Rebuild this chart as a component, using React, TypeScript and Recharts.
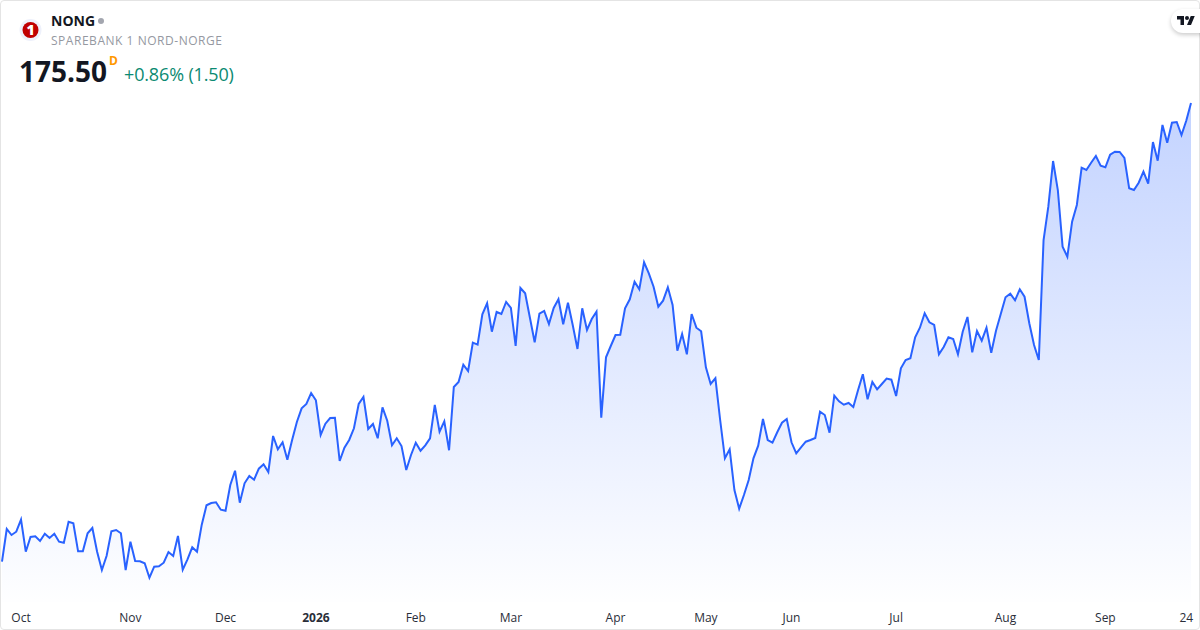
import { AreaChart, Area, XAxis, YAxis } from 'recharts';

const prices = [
  129.63, 132.9, 132.3, 132.63, 133.83, 130.63, 132.1, 132.17, 131.7, 132.43,
  132.0, 132.43, 131.63, 131.53, 133.63, 133.47, 130.67, 130.67, 132.47, 133.0,
  130.63, 128.8, 130.23, 132.67, 132.8, 132.47, 128.8, 131.63, 129.7, 129.67,
  129.47, 128.03, 129.13, 129.17, 129.53, 130.6, 130.2, 132.2, 128.83, 129.87,
  131.07, 130.63, 133.33, 135.27, 135.5, 135.57, 134.83, 134.73, 137.3, 138.73,
  135.53, 137.47, 138.2, 137.83, 138.93, 139.37, 138.6, 142.2, 140.87, 141.57,
  139.83, 141.8, 143.6, 144.97, 145.4, 146.5, 145.77, 142.3, 143.43, 144.0,
  144.03, 139.7, 141.03, 141.8, 142.97, 145.4, 146.1, 142.9, 143.4, 141.97,
  145.07, 143.73, 141.27, 141.97, 141.2, 138.8, 140.3, 141.53, 140.73, 141.27,
  141.97, 145.3, 142.63, 143.67, 140.77, 147.1, 147.6, 149.33, 148.7, 151.53,
  151.33, 154.37, 155.47, 152.63, 154.6, 154.4, 155.6, 155.0, 151.2, 157.0,
  156.47, 154.03, 151.57, 154.43, 154.7, 153.4, 155.0, 155.87, 153.37, 155.53,
  153.3, 150.9, 154.97, 152.8, 153.9, 154.63, 144.03, 150.07, 151.2, 152.3,
  152.33, 154.97, 155.87, 157.63, 156.87, 159.57, 158.47, 157.13, 155.13, 155.73,
  157.07, 155.3, 150.73, 152.4, 150.37, 154.4, 153.03, 152.67, 149.07, 147.4,
  147.97, 143.8, 139.97, 140.87, 136.8, 134.93, 136.3, 137.8, 139.97, 141.23,
  143.9, 141.8, 141.53, 142.57, 143.53, 143.9, 141.57, 140.47, 141.07, 141.63,
  141.8, 142.0, 144.63, 144.3, 142.53, 146.23, 145.67, 145.33, 145.5, 145.1,
  146.8, 148.37, 145.87, 147.6, 146.87, 147.4, 147.95, 147.83, 146.2, 148.97,
  149.8, 149.97, 152.07, 153.03, 154.47, 153.57, 153.3, 150.37, 151.1, 152.07,
  151.9, 150.37, 152.63, 154.1, 150.57, 152.7, 151.73, 153.03, 150.53, 152.73,
  154.4, 156.07, 156.43, 155.77, 156.87, 156.13, 153.47, 151.3, 149.8, 161.8,
  165.13, 169.7, 166.8, 161.13, 160.13, 163.63, 165.3, 169.03, 168.8, 169.53,
  170.2, 169.23, 169.07, 170.33, 170.63, 170.6, 170.0, 166.97, 166.8, 167.53,
  168.63, 167.43, 171.6, 169.73, 173.3, 171.53, 173.53, 173.6, 172.3, 173.73,
  175.5,
];

const tickPositions = [4, 27, 47, 66, 87, 107, 129, 148, 166, 188, 211, 232, 249];
const tickLabels = ['Oct', 'Nov', 'Dec', '2026', 'Feb', 'Mar', 'Apr', 'May', 'Jun', 'Jul', 'Aug', 'Sep', '24'];

const chartData = prices.map((price, i) => ({ i, price }));
const font = '"Open Sans", sans-serif';

function MonthTick({ x, y, payload }: any) {
  const label = tickLabels[tickPositions.indexOf(payload.value)];
  return (
    <text x={x} y={y + 14} textAnchor="middle" fontFamily={font} fontSize={12} fill="#2a2e39" fontWeight={label === '2026' ? 700 : 400}>
      {label}
    </text>
  );
}

export default function App() {
  return (
    <div style={{ position: 'absolute', left: 0, top: 0, width: 1200, height: 630, background: '#fff', overflow: 'hidden', fontFamily: font }}>
      <AreaChart width={1200} height={630} data={chartData} margin={{ top: 0, right: 9, bottom: 0, left: 2 }}>
        <defs>
          <linearGradient id="priceFill" x1="0" y1="0" x2="0" y2="1">
            <stop offset="0%" stopColor="#2962ff" stopOpacity={0.28} />
            <stop offset="100%" stopColor="#2962ff" stopOpacity={0.005} />
          </linearGradient>
        </defs>
        <XAxis
          dataKey="i"
          type="number"
          domain={[0, prices.length - 1]}
          ticks={tickPositions}
          interval={0}
          height={28}
          axisLine={false}
          tickLine={false}
          tick={<MonthTick />}
          tickMargin={0}
        />
        <YAxis hide domain={[125.6, 185.8]} />
        <Area dataKey="price" type="linear" stroke="#2962ff" strokeWidth={2} fill="url(#priceFill)" fillOpacity={1} isAnimationActive={false} />
      </AreaChart>

      <div style={{ position: 'absolute', left: 0, top: 0, width: 1198, height: 628, border: '1px solid #e4e4e4', borderRadius: 4 }} />

      <svg width={24} height={24} style={{ position: 'absolute', left: 19, top: 18 }}>
        <circle cx={11.5} cy={12} r={11} fill="#eef1fb" />
        <circle cx={11.5} cy={12} r={8} fill="#c00000" />
        <text x={11.5} y={17} textAnchor="middle" fontFamily={font} fontSize={14} fontWeight={800} fill="#fff">1</text>
      </svg>
      <div style={{ position: 'absolute', left: 51, top: 11, fontSize: 14, fontWeight: 700, color: '#131722', lineHeight: '19px' }}>NONG</div>
      <div style={{ position: 'absolute', left: 98, top: 18, width: 6, height: 6, borderRadius: 3, background: '#a3a6af' }} />
      <div style={{ position: 'absolute', left: 51, top: 32, fontSize: 12, color: '#9598a1', lineHeight: '17px', letterSpacing: 0.53 }}>SPAREBANK 1 NORD-NORGE</div>
      <div style={{ position: 'absolute', left: 19, top: 52, fontSize: 28, fontWeight: 700, color: '#131722', lineHeight: '38px' }}>175.50</div>
      <div style={{ position: 'absolute', left: 109, top: 53, fontSize: 12, fontWeight: 700, color: '#ff9800', lineHeight: '16px' }}>D</div>
      <div style={{ position: 'absolute', left: 124, top: 62, fontSize: 18, color: '#0b8a72', lineHeight: '25px', letterSpacing: -0.15 }}>+0.86% (1.50)</div>

      <div style={{ position: 'absolute', left: 1171, top: 9, width: 40, height: 24, borderRadius: 12, background: '#fff', boxShadow: '0 2px 4px rgba(0,0,0,0.2)' }} />
      <svg width={18} height={14} viewBox="0 0 36 28" style={{ position: 'absolute', left: 1177, top: 14 }}>
        <path d="M14 22H7V11H0V4h14v18zM28 22h-8l7.5-18h8L28 22z" fill="#131722" />
        <circle cx={20} cy={8} r={4} fill="#131722" />
      </svg>
    </div>
  );
}
